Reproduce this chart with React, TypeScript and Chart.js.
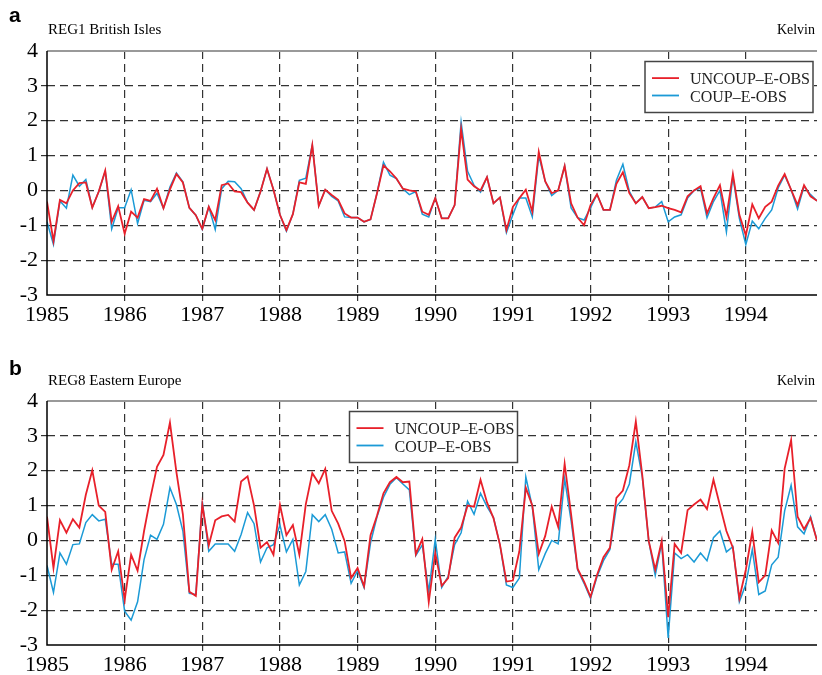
import React, { useEffect, useRef } from "react";
import { Chart, registerables } from "chart.js";
Chart.register(...registerables);

const START_YEAR = 1985;
const yearTicks = [1985, 1986, 1987, 1988, 1989, 1990, 1991, 1992, 1993, 1994];
const yTicks = [-3, -2, -1, 0, 1, 2, 3, 4];

// Panel a: REG1 British Isles (monthly, 1985-1994)
const reg1Uncoup = [
  -0.32, -1.45, -0.27, -0.37, 0.0, 0.21, 0.23, -0.49, -0.03, 0.57, -0.9, -0.45,
  -1.24, -0.61, -0.78, -0.25, -0.3, 0.05, -0.51, 0.03, 0.47, 0.23, -0.5, -0.71,
  -1.1, -0.47, -0.85, 0.15, 0.2, -0.03, -0.05, -0.35, -0.56, -0.03, 0.62, 0.02,
  -0.7, -1.14, -0.68, 0.23, 0.19, 1.3, -0.44, 0.02, -0.13, -0.27, -0.66, -0.78,
  -0.78, -0.9, -0.83, -0.08, 0.72, 0.55, 0.34, 0.05, 0.0, -0.03, -0.61, -0.7,
  -0.22, -0.8, -0.8, -0.42, 1.76, 0.31, 0.12, 0.0, 0.38, -0.37, -0.2, -1.14,
  -0.47, -0.22, 0.02, -0.61, 1.11, 0.26, -0.08, 0.0, 0.7, -0.37, -0.78, -1.0,
  -0.42, -0.11, -0.56, -0.56, 0.19, 0.52, -0.08, -0.37, -0.19, -0.51, -0.48, -0.44,
  -0.51, -0.56, -0.63, -0.17, 0.0, 0.12, -0.66, -0.22, 0.15, -0.76, 0.47, -0.7,
  -1.29, -0.4, -0.8, -0.47, -0.32, 0.14, 0.47, 0.02, -0.42, 0.15, -0.17, -0.3,
];
const reg1Coup = [
  -0.9, -1.55, -0.3, -0.51, 0.44, 0.12, 0.31, -0.49, -0.03, 0.55, -1.1, -0.5,
  -0.5, 0.02, -0.95, -0.28, -0.32, -0.08, -0.51, 0.1, 0.5, 0.25, -0.5, -0.71,
  -1.12, -0.47, -1.12, 0.05, 0.26, 0.25, 0.05, -0.35, -0.56, -0.03, 0.62, 0.02,
  -0.7, -1.17, -0.68, 0.29, 0.35, 1.3, -0.44, 0.02, -0.17, -0.3, -0.76, -0.78,
  -0.78, -0.9, -0.83, -0.08, 0.81, 0.44, 0.34, 0.05, -0.12, -0.03, -0.68, -0.76,
  -0.22, -0.8, -0.8, -0.42, 1.96, 0.55, 0.15, -0.05, 0.38, -0.37, -0.2, -1.21,
  -0.7, -0.22, -0.22, -0.76, 0.99, 0.26, -0.15, 0.0, 0.7, -0.5, -0.78, -0.85,
  -0.5, -0.11, -0.56, -0.56, 0.29, 0.75, -0.03, -0.37, -0.19, -0.51, -0.48, -0.32,
  -0.9, -0.76, -0.7, -0.22, 0.0, 0.07, -0.78, -0.32, 0.0, -1.19, 0.4, -0.8,
  -1.55, -0.88, -1.1, -0.8, -0.56, 0.07, 0.44, 0.02, -0.53, 0.12, -0.12, -0.3,
];

// Panel b: REG8 Eastern Europe (monthly, 1985-1994)
const reg8Uncoup = [
  0.68, -0.79, 0.58, 0.22, 0.61, 0.37, 1.31, 2.01, 1.0, 0.82, -0.84, -0.31,
  -1.71, -0.41, -0.87, 0.27, 1.24, 2.11, 2.45, 3.38, 1.96, 0.75, -1.47, -1.59,
  1.03, -0.14, 0.58, 0.69, 0.73, 0.54, 1.69, 1.84, 1.0, -0.21, -0.05, -0.41,
  1.03, 0.15, 0.44, -0.41, 1.04, 1.93, 1.64, 2.05, 0.85, 0.48, -0.02, -1.08,
  -0.79, -1.32, 0.15, 0.71, 1.35, 1.67, 1.82, 1.67, 1.69, -0.39, 0.04, -1.77,
  -0.36, -1.3, -1.08, 0.08, 0.37, 1.0, 0.97, 1.74, 1.09, 0.64, -0.12, -1.18,
  -1.15, -0.31, 1.51, 1.0, -0.39, 0.13, 0.97, 0.39, 2.2, 0.75, -0.81, -1.18,
  -1.62, -0.99, -0.48, -0.21, 1.22, 1.43, 2.16, 3.41, 1.87, -0.02, -0.84, -0.02,
  -2.2, -0.1, -0.36, 0.87, 1.03, 1.17, 0.9, 1.74, 1.0, 0.27, -0.21, -1.66,
  -0.84, 0.25, -1.2, -1.0, 0.29, -0.07, 2.06, 2.88, 0.68, 0.32, 0.64, 0.0,
];
const reg8Coup = [
  -0.72, -1.49, -0.36, -0.68, -0.12, -0.1, 0.51, 0.74, 0.56, 0.61, -0.68, -0.68,
  -2.03, -2.29, -1.76, -0.55, 0.15, 0.03, 0.46, 1.51, 1.03, 0.27, -1.52, -1.55,
  1.12, -0.31, -0.1, -0.1, -0.1, -0.31, 0.17, 0.8, 0.48, -0.62, -0.21, -0.12,
  0.44, -0.33, 0.03, -1.28, -0.89, 0.74, 0.54, 0.74, 0.32, -0.36, -0.33, -1.23,
  -0.87, -1.35, -0.07, 0.68, 1.24, 1.61, 1.8, 1.62, 1.45, -0.43, -0.13, -1.47,
  0.03, -1.35, -1.03, -0.12, 0.22, 1.12, 0.75, 1.35, 0.97, 0.66, -0.12, -1.28,
  -1.35, -1.08, 1.82, 0.97, -0.84, -0.38, 0.0, -0.1, 1.77, 0.56, -0.84, -1.23,
  -1.66, -1.04, -0.58, -0.26, 0.97, 1.19, 1.62, 2.83, 1.82, -0.02, -1.0, -0.07,
  -2.8, -0.36, -0.52, -0.41, -0.62, -0.36, -0.58, 0.08, 0.27, -0.33, -0.18, -1.76,
  -1.26, -0.26, -1.55, -1.45, -0.7, -0.48, 0.85, 1.58, 0.39, 0.19, 0.68, 0.0,
];

const seriesNames = ["UNCOUP\u2013E-OBS", "COUP\u2013E-OBS"];
const RED = "#e8202a";
const BLUE = "#1b9ad6";
const SERIF = '"Liberation Serif", "Times New Roman", serif';
const SANS = '"Liberation Sans", Arial, sans-serif';

type PanelProps = {
  letter: string;
  region: string;
  uncoup: number[];
  coup: number[];
  height: number;
  padTop: number;
  xAxisH: number;
  letterY: number;
  regionY: number;
  legend: { x: number; y: number; w: number; h: number };
};

function Panel(p: PanelProps) {
  const ref = useRef<HTMLCanvasElement>(null);
  useEffect(() => {
    const toPts = (arr: number[]) => arr.map((v, i) => ({ x: START_YEAR + i / 12, y: v }));
    const decor = {
      id: "decor",
      afterDraw(chart: any) {
        const ctx = chart.ctx as CanvasRenderingContext2D;
        const a = chart.chartArea;
        ctx.save();
        ctx.setLineDash([]);
        // top frame
        ctx.strokeStyle = "#999";
        ctx.lineWidth = 2;
        ctx.beginPath();
        ctx.moveTo(a.left, a.top);
        ctx.lineTo(a.right, a.top);
        ctx.stroke();
        // axes
        ctx.strokeStyle = "#000";
        ctx.lineWidth = 1.5;
        ctx.beginPath();
        ctx.moveTo(a.left, a.top);
        ctx.lineTo(a.left, a.bottom);
        ctx.lineTo(a.right, a.bottom);
        ctx.stroke();
        // headings
        ctx.fillStyle = "#000";
        ctx.textBaseline = "alphabetic";
        ctx.textAlign = "left";
        ctx.font = `bold 21px ${SANS}`;
        ctx.fillText(p.letter, 9, p.letterY);
        ctx.font = `15px ${SERIF}`;
        ctx.fillText(p.region, 48, p.regionY);
        ctx.textAlign = "right";
        ctx.font = `14px ${SERIF}`;
        ctx.fillText("Kelvin", 815, p.regionY);
        // legend
        const L = p.legend;
        ctx.fillStyle = "#fff";
        ctx.fillRect(L.x, L.y, L.w, L.h);
        ctx.strokeStyle = "#444";
        ctx.lineWidth = 1.5;
        ctx.strokeRect(L.x, L.y, L.w, L.h);
        const rows = [
          { c: RED, t: seriesNames[0], ly: L.y + 16.6, ty: L.y + 22.8 },
          { c: BLUE, t: seriesNames[1], ly: L.y + 34, ty: L.y + 40.2 },
        ];
        ctx.font = `16px ${SERIF}`;
        ctx.textAlign = "left";
        for (const r of rows) {
          ctx.strokeStyle = r.c;
          ctx.lineWidth = 1.8;
          ctx.beginPath();
          ctx.moveTo(L.x + 7, r.ly);
          ctx.lineTo(L.x + 34, r.ly);
          ctx.stroke();
          ctx.fillStyle = "#222";
          ctx.fillText(r.t, L.x + 45, r.ty);
        }
        ctx.restore();
      },
    };
    const gridColor = (hide: number[]) => (c: any) =>
      c.tick && hide.includes(c.tick.value) ? "rgba(0,0,0,0)" : "#333";
    const chart = new Chart(ref.current as HTMLCanvasElement, {
      type: "line",
      data: {
        datasets: [
          {
            label: seriesNames[0],
            data: toPts(p.uncoup),
            borderColor: RED,
            borderWidth: 1.8,
            pointRadius: 0,
            tension: 0,
            fill: false,
          },
          {
            label: seriesNames[1],
            data: toPts(p.coup),
            borderColor: BLUE,
            borderWidth: 1.5,
            pointRadius: 0,
            tension: 0,
            fill: false,
          },
        ],
      },
      options: {
        responsive: false,
        animation: false,
        layout: { padding: { top: p.padTop, right: 5, left: 0, bottom: 0 } },
        plugins: { legend: { display: false }, tooltip: { enabled: false } },
        scales: {
          x: {
            type: "linear",
            min: START_YEAR,
            max: START_YEAR + 119 / 12,
            afterBuildTicks: (s: any) => {
              s.ticks = yearTicks.map((v) => ({ value: v }));
            },
            afterFit: (s: any) => {
              s.height = p.xAxisH;
            },
            ticks: {
              autoSkip: false,
              maxRotation: 0,
              padding: 1,
              color: "#000",
              font: { family: SERIF, size: 22 },
              callback: (v: any) => String(v),
            },
            grid: {
              color: gridColor([START_YEAR]),
              lineWidth: 1.2,
              tickLength: 6,
              borderDash: [8, 5],
            } as any,
            border: { display: false, dash: [8, 5] },
          },
          y: {
            type: "linear",
            min: -3,
            max: 4,
            afterBuildTicks: (s: any) => {
              s.ticks = yTicks.map((v) => ({ value: v }));
            },
            afterFit: (s: any) => {
              s.width = 47;
            },
            ticks: {
              padding: 3,
              color: "#000",
              font: { family: SERIF, size: 22 },
              callback: (v: any) => String(v),
            },
            grid: {
              color: gridColor([4, -3]),
              lineWidth: 1.2,
              tickLength: 6,
              borderDash: [8, 5],
            } as any,
            border: { display: false, dash: [8, 5] },
          },
        },
      },
      plugins: [decor],
    } as any);
    return () => chart.destroy();
  }, []);
  return (
    <canvas
      ref={ref}
      width={822}
      height={p.height}
      style={{ display: "block", width: 822, height: p.height }}
    />
  );
}

export default function App() {
  return (
    <div
      style={{
        position: "absolute",
        left: 0,
        top: 0,
        width: 822,
        height: 675,
        background: "#fff",
      }}
    >
      <Panel
        letter="a"
        region="REG1 British Isles"
        uncoup={reg1Uncoup}
        coup={reg1Coup}
        height={345}
        padTop={51}
        xAxisH={50}
        letterY={22}
        regionY={34}
        legend={{ x: 645, y: 61.5, w: 168, h: 51 }}
      />
      <Panel
        letter="b"
        region="REG8 Eastern Europe"
        uncoup={reg8Uncoup}
        coup={reg8Coup}
        height={330}
        padTop={56}
        xAxisH={30}
        letterY={30}
        regionY={40}
        legend={{ x: 349.5, y: 66.5, w: 168, h: 51 }}
      />
    </div>
  );
}
